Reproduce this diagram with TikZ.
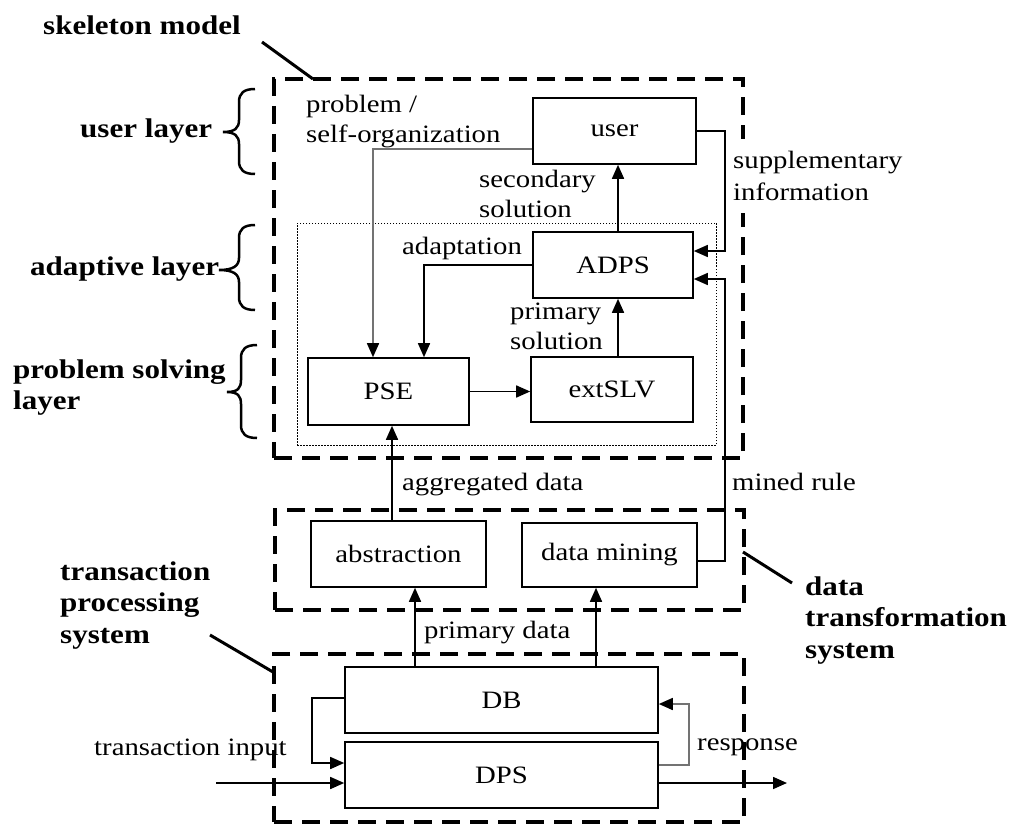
\documentclass[tikz,border=0pt]{standalone}
\usepackage{fontspec}
\setmainfont[FakeStretch=1.15]{Liberation Serif}
\usetikzlibrary{arrows.meta}
\newcommand\mybrace[5]{% #1 end x, #2 top y, #3 tip y, #4 bottom y, #5 tip x
  \draw[bracel] (#1,#2) .. controls ({#1-11},#2) and ({#1-16},{#2+4}) .. ({#1-16},{#2+13})
    -- ({#1-16},{#3-12}) .. controls ({#1-16},{#3-4}) and ({(#1+#5)/2-4},#3) .. (#5,#3)
    .. controls ({(#1+#5)/2-4},#3) and ({#1-16},{#3+4}) .. ({#1-16},{#3+12})
    -- ({#1-16},{#4-13}) .. controls ({#1-16},{#4-4}) and ({#1-11},#4) .. (#1,#4);}
\begin{document}
\begin{tikzpicture}[x=1pt,y=-1pt,
  box/.style={draw, line width=1.6pt, inner sep=0pt, font=\fontsize{25}{30}\selectfont},
  bigdash/.style={draw, line width=3.5pt, dash pattern=on 18pt off 10pt, inner sep=0pt},
  dotbox/.style={draw, line width=1pt, dash pattern=on 1.5pt off 1.5pt, inner sep=0pt},
  conn/.style={line width=1.6pt, -{Triangle[length=14pt,width=12pt]}},
  rconn/.style={line width=1.6pt, {Triangle[length=14pt,width=12pt]}-},
  gconn/.style={line width=1.6pt, draw=black!55, -{Triangle[length=14pt,width=12pt,color=black]}},
  grconn/.style={line width=1.6pt, draw=black!55, {Triangle[length=14pt,width=12pt,color=black]}-},
  pointer/.style={line width=3pt},
  bracel/.style={line width=2.5pt},
  lbl/.style={inner sep=0pt, font=\fontsize{25}{30}\selectfont},
  blbl/.style={inner sep=0pt, font=\fontsize{27}{31.5}\selectfont\bfseries}]
\useasboundingbox (0,0) rectangle (1014,824);

% frames
\node[bigdash, minimum width=469pt, minimum height=379pt] (skel) at (508.5,268.5) {};
\node[dotbox, minimum width=419pt, minimum height=222pt] (inner) at (506.5,334) {};
\node[bigdash, minimum width=469pt, minimum height=100pt] (dts) at (509.5,560) {};
\node[bigdash, minimum width=470pt, minimum height=168pt] (tps) at (509,738) {};

% boxes
\node[box, minimum width=163pt, minimum height=66pt] (user) at (614.5,131) {user};
\node[box, minimum width=160pt, minimum height=66pt] (ADPS) at (613,265) {ADPS};
\node[box, minimum width=161pt, minimum height=67pt] (PSE) at (388.5,391.5) {PSE};
\node[box, minimum width=162pt, minimum height=65pt] (extSLV) at (612,389.5) {extSLV};
\node[box, minimum width=175pt, minimum height=66pt] (abs) at (398.5,554) {abstraction};
\node[box, minimum width=175pt, minimum height=64pt] (dm) at (609.5,555) {data mining};
\node[box, minimum width=313pt, minimum height=66pt] (DB) at (501.5,700) {DB};
\node[box, minimum width=313pt, minimum height=66pt] (DPS) at (501.5,775) {DPS};

% helper coordinates
\coordinate (rx) at (725,0);
\coordinate (lx) at (312,0);
\coordinate (rsx) at (689,0);
\coordinate (inp) at (216,783);
\coordinate (outp) at (787,783);

% connectors
\draw[gconn] ([yshift=-18pt]user.west) -| ([xshift=-15.5pt]PSE.north);
\draw[conn] (ADPS.west) -| ([xshift=35.5pt]PSE.north);
\coordinate (a1) at ([xshift=5pt]ADPS.north);
\draw[conn] (a1) -- (a1 |- user.south);
\coordinate (e1) at ([xshift=6pt]extSLV.north);
\draw[conn] (e1) -- (e1 |- ADPS.south);
\draw[conn] (PSE.east) -- (PSE.east -| extSLV.west);
\draw[rconn] ([yshift=14pt]ADPS.east) -| (rx |- user.east) -- (user.east);
\coordinate (d1) at ([yshift=-6pt]dm.east);
\draw[rconn] ([yshift=-14pt]ADPS.east) -| (rx |- d1) -- (d1);
\coordinate (p1) at ([xshift=3.5pt]PSE.south);
\draw[rconn] (p1) -- (p1 |- abs.north);
\coordinate (b1) at ([xshift=16.5pt]abs.south);
\draw[conn] (b1 |- DB.north) -- (b1);
\coordinate (b2) at ([xshift=-13.5pt]dm.south);
\draw[conn] (b2 |- DB.north) -- (b2);
\coordinate (l1) at ([yshift=2pt]DB.west);
\coordinate (l2) at ([yshift=12pt]DPS.west);
\draw[conn] (l1) -- (lx |- l1) -- (lx |- l2) -- (l2);
\draw[conn] (inp) -- (inp -| DPS.west);
\draw[conn] (outp -| DPS.east) -- (outp);
\coordinate (r1) at ([yshift=10pt]DPS.east);
\coordinate (r2) at ([yshift=-4pt]DB.east);
\draw[grconn] (r2) -- (rsx |- r2) -- (rsx |- r1) -- (r1);

% labels
\node[lbl, anchor=north west, align=left] (lprob) at (306,95) {problem /\\self-organization};
\node[lbl, anchor=north west, align=left] (lsec) at (479,170) {secondary\\solution};
\node[lbl, anchor=north west, align=left] (lprim) at (510,303) {primary\\solution};
\node[lbl, anchor=north west, align=left, font=\fontsize{25}{32}\selectfont,
      fill=white, inner xsep=3pt, inner ysep=12pt] (lsup) at (730,139) {supplementary\\information};
\node[lbl, anchor=base west] (ladapt) at (402,254) {adaptation};
\node[lbl, anchor=base west] (lagg) at (402,490) {aggregated data};
\node[lbl, anchor=base west] (lmined) at (732,490) {mined rule};
\node[lbl, anchor=base west] (lpdata) at (424,638) {primary data};
\node[lbl, anchor=base west] (ltin) at (94,755) {transaction input};
\node[lbl, anchor=base west] (lresp) at (697,750) {response};

\node[blbl, anchor=base west] (lskel) at (43,35) {skeleton model};
\node[blbl, anchor=base west] (luser) at (80,138) {user layer};
\node[blbl, anchor=base west] (ladl) at (30,275) {adaptive layer};
\node[blbl, anchor=north west, align=left] (lpsl) at (13,359.5) {problem solving\\layer};
\node[blbl, anchor=north west, align=left] (ltps) at (60,561.5) {transaction\\processing\\system};
\node[blbl, anchor=north west, align=left] (ldts) at (805,576.5) {data\\transformation\\system};

% pointer lines
\coordinate (sk1) at (262,42);  \coordinate (sk2) at (313,79);
\draw[pointer] (sk1) -- (sk2);
\coordinate (tp1) at (210,635); \coordinate (tp2) at (273,672);
\draw[pointer] (tp1) -- (tp2);
\coordinate (dt1) at (743,552); \coordinate (dt2) at (792,583);
\draw[pointer] (dt1) -- (dt2);

% braces
\mybrace{255}{89}{132}{174}{223}
\mybrace{255}{225}{270}{310}{219}
\mybrace{257}{345}{392}{438}{227}
\end{tikzpicture}
\end{document}
